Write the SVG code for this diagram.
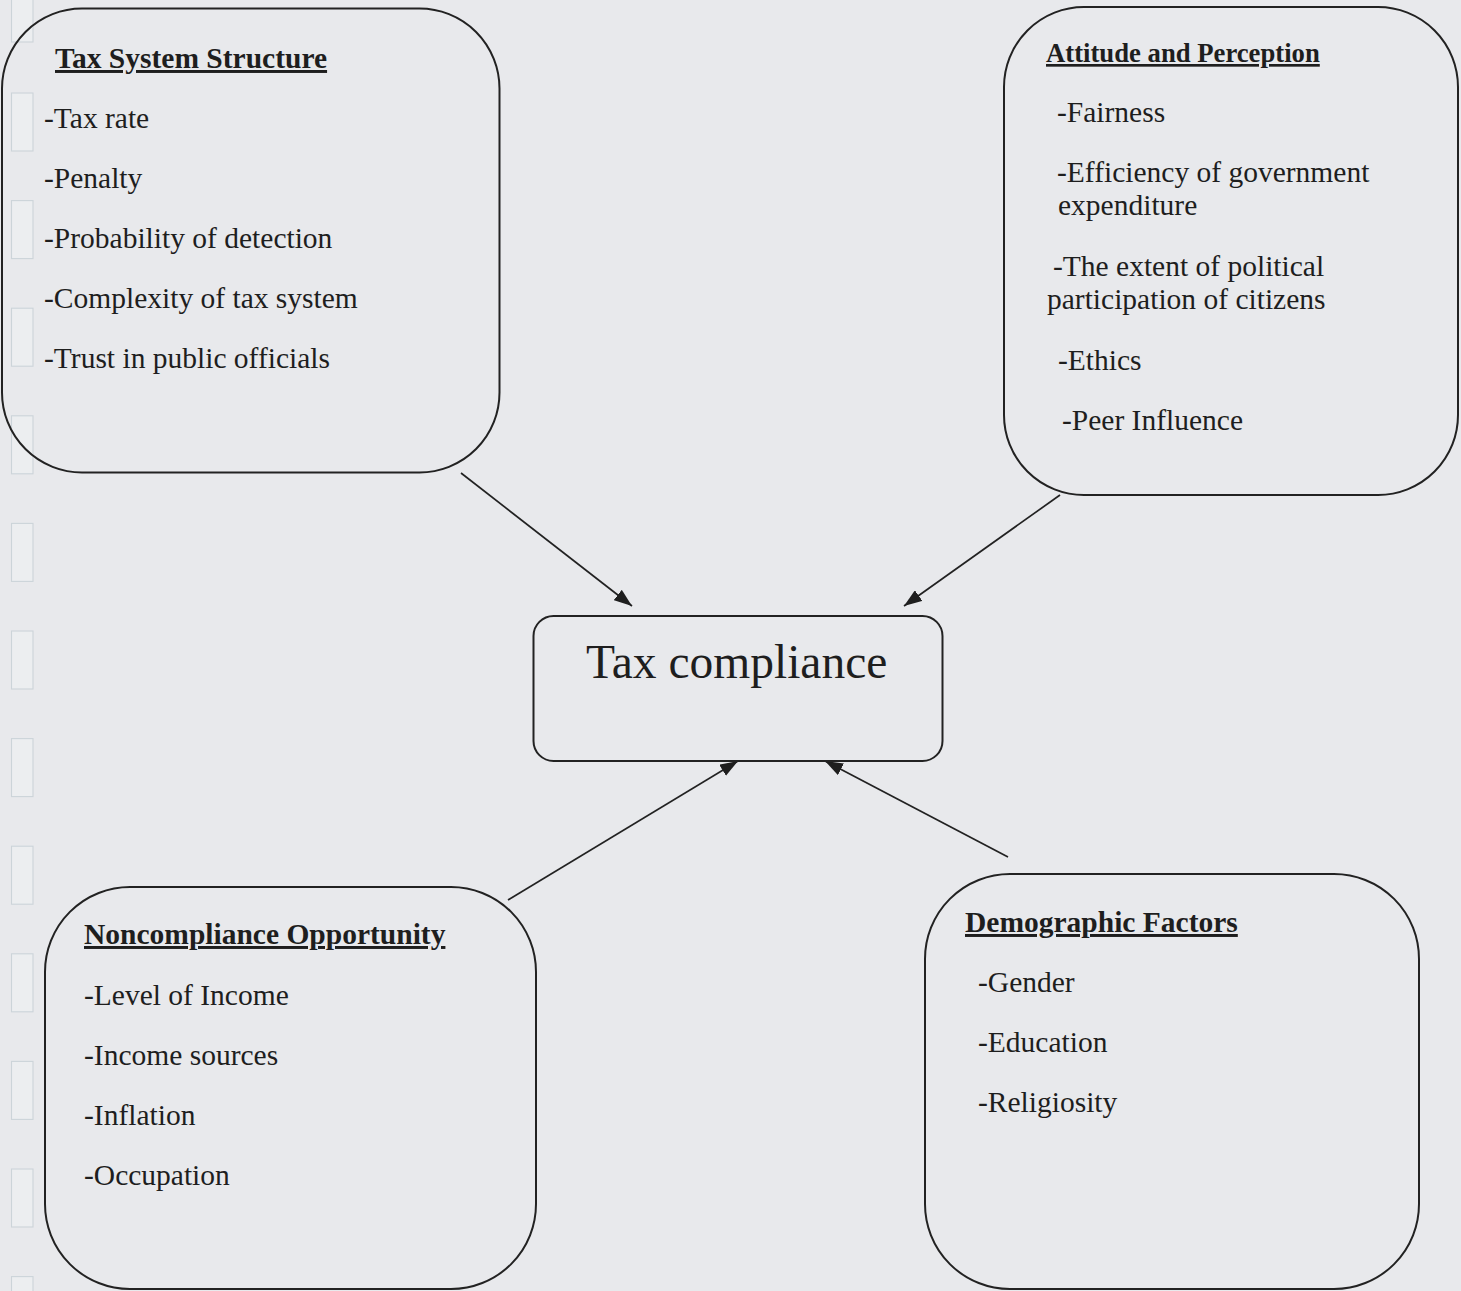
<svg xmlns="http://www.w3.org/2000/svg" width="1461" height="1291" viewBox="0 0 1461 1291">
<style>
.bg{fill:#e8e9ec}
.hole{fill:#eceef0;stroke:#ccd4d9;stroke-width:1.1}
.box{fill:none;stroke:#222;stroke-width:2}
.t{font-family:"Liberation Serif","Times New Roman",serif;fill:#1e1e1e;font-size:29.5px}
.h{font-weight:bold;text-decoration:underline}
.big{font-size:47.5px}
.conn{stroke:#222;stroke-width:1.7;fill:none;marker-end:url(#ah)}
</style>
<defs>
<marker id="ah" markerUnits="userSpaceOnUse" markerWidth="18" markerHeight="13" refX="18" refY="6.5" orient="auto">
<path d="M0,0 L18,6.5 L0,13 z" fill="#1e1e1e"/>
</marker>
</defs>
<rect class="bg" x="0" y="0" width="1461" height="1291"/>
<g id="binder-holes">
<rect class="hole" x="11.5" y="-15" width="21.5" height="57"/>
<rect class="hole" x="11.5" y="93" width="21.5" height="58"/>
<rect class="hole" x="11.5" y="200.6" width="21.5" height="58"/>
<rect class="hole" x="11.5" y="308.2" width="21.5" height="58"/>
<rect class="hole" x="11.5" y="415.8" width="21.5" height="58"/>
<rect class="hole" x="11.5" y="523.4" width="21.5" height="58"/>
<rect class="hole" x="11.5" y="631" width="21.5" height="58"/>
<rect class="hole" x="11.5" y="738.6" width="21.5" height="58"/>
<rect class="hole" x="11.5" y="846.2" width="21.5" height="58"/>
<rect class="hole" x="11.5" y="953.8" width="21.5" height="58"/>
<rect class="hole" x="11.5" y="1061.4" width="21.5" height="58"/>
<rect class="hole" x="11.5" y="1169" width="21.5" height="58"/>
<rect class="hole" x="11.5" y="1276.6" width="21.5" height="58"/>
</g>
<g id="connectors">
<line class="conn" x1="461" y1="473" x2="632" y2="606"/>
<line class="conn" x1="1060" y1="495" x2="904" y2="606"/>
<line class="conn" x1="508" y1="900" x2="738" y2="761"/>
<line class="conn" x1="1008" y1="857" x2="825" y2="761"/>
</g>
<g id="tax-system-structure">
<rect class="box" x="2" y="8.5" width="497.5" height="464" rx="80" ry="80"/>
<text class="t h" x="55" y="68">Tax System Structure</text>
<text class="t" x="44" y="128">-Tax rate</text>
<text class="t" x="44" y="188">-Penalty</text>
<text class="t" x="44" y="248">-Probability of detection</text>
<text class="t" x="44" y="308">-Complexity of tax system</text>
<text class="t" x="44" y="368">-Trust in public officials</text>
</g>
<g id="attitude-and-perception">
<rect class="box" x="1004" y="7" width="454" height="488" rx="80" ry="80"/>
<text class="t h" x="1046" y="62" style="font-size:26.7px">Attitude and Perception</text>
<text class="t" x="1057" y="122">-Fairness</text>
<text class="t" x="1057" y="182">-Efficiency of government</text>
<text class="t" x="1058" y="215">expenditure</text>
<text class="t" x="1053" y="276">-The extent of political</text>
<text class="t" x="1047" y="309">participation of citizens</text>
<text class="t" x="1058" y="370">-Ethics</text>
<text class="t" x="1062" y="430">-Peer Influence</text>
</g>
<g id="tax-compliance">
<rect class="box" x="533.5" y="616" width="409" height="145" rx="20" ry="20"/>
<text class="t big" x="586" y="678">Tax compliance</text>
</g>
<g id="noncompliance-opportunity">
<rect class="box" x="45" y="887" width="491" height="402" rx="85" ry="85"/>
<text class="t h" x="84" y="944">Noncompliance Opportunity</text>
<text class="t" x="84" y="1005">-Level of Income</text>
<text class="t" x="84" y="1065">-Income sources</text>
<text class="t" x="84" y="1125">-Inflation</text>
<text class="t" x="84" y="1185">-Occupation</text>
</g>
<g id="demographic-factors">
<rect class="box" x="925" y="874" width="494" height="415" rx="85" ry="85"/>
<text class="t h" x="965" y="932">Demographic Factors</text>
<text class="t" x="978" y="992">-Gender</text>
<text class="t" x="978" y="1052">-Education</text>
<text class="t" x="978" y="1112">-Religiosity</text>
</g>
</svg>
